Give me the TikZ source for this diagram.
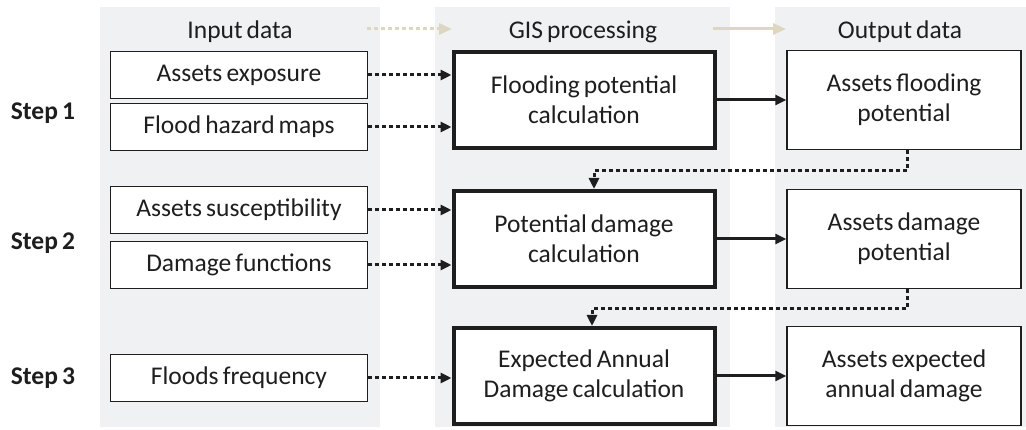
\documentclass[tikz,border=0pt]{standalone}
\usepackage{fontspec}
\setmainfont{Carlito}
\usetikzlibrary{arrows.meta}
\definecolor{panel}{HTML}{F0F1F3}
\definecolor{tan}{HTML}{DDD6C1}
\definecolor{ink}{HTML}{1E1E1E}
\newcommand{\txtsize}{\fontsize{25.5}{30}\selectfont\spaceskip=0.16em plus 0.05em minus 0.05em\relax}
\begin{document}
\begin{tikzpicture}[x=1pt,y=-1pt,
  every node/.style={font=\txtsize, text=ink, align=center, inner sep=0pt},
  inbox/.style={draw=ink, line width=1.3pt, fill=white, minimum width=257pt, minimum height=47pt},
  gisbox/.style={draw=ink, line width=4pt, fill=white, minimum width=261pt, minimum height=96pt},
  outbox/.style={draw=ink, line width=1.3pt, fill=white, minimum width=234pt, minimum height=99pt},
  steplbl/.style={font=\txtsize\bfseries},
  head/.style={font=\txtsize},
  tip/.style={-{Triangle[length=11pt,width=10pt]}},
  dotarrow/.style={tip, draw=ink, line width=3pt, dash pattern=on 3.5pt off 3.5pt},
  solidarrow/.style={tip, draw=ink, line width=3pt},
]
\useasboundingbox (0,0) rectangle (1026,430);

% column panels
\fill[panel] (100,7) rectangle (380,427);
\fill[panel] (435,7) rectangle (730,427);
\fill[panel] (775,7) rectangle (1026,427);

% column headers
\node[head] (hin)  at (240,32) {Input data};
\node[head] (hgis) at (583,32) {GIS processing};
\node[head] (hout) at (900,32) {Output data};
\coordinate (ha1) at (367,29);
\coordinate (hb1) at (452,29);
\coordinate (ha2) at (713,29);
\coordinate (hb2) at (786,29);
\draw[-{Triangle[length=13pt,width=11pt]}, draw=tan, line width=3pt, dash pattern=on 3.5pt off 3.5pt] (ha1) -- (hb1);
\draw[-{Triangle[length=13pt,width=11pt]}, draw=tan, line width=3pt] (ha2) -- (hb2);

% step labels
\node[steplbl] (s1) at (43,113) {Step\,1};
\node[steplbl] (s2) at (43,243) {Step\,2};
\node[steplbl] (s3) at (43,378) {Step\,3};

% input boxes
\node[inbox] (i1) at (239,75)  {Assets exposure};
\node[inbox] (i2) at (239,127) {Flood hazard maps};
\node[inbox] (i3) at (239,210) {Assets susceptibility};
\node[inbox] (i4) at (239,265) {Damage functions};
\node[inbox] (i5) at (239,378) {Floods frequency};

% processing boxes
\node[gisbox] (g1) at (584,100) {Flooding potential\\calculation};
\node[gisbox] (g2) at (584,239) {Potential damage\\calculation};
\node[gisbox] (g3) at (584,376) {Expected Annual\\Damage calculation};

% output boxes
\node[outbox] (o1) at (904,100) {Assets flooding\\potential};
\node[outbox] (o2) at (904,239) {Assets damage\\potential};
\node[outbox] (o3) at (904,376) {Assets expected\\annual damage};

% inputs into processing
\draw[dotarrow] (i1.east) -- (i1.east -| g1.west);
\draw[dotarrow] (i2.east) -- (i2.east -| g1.west);
\draw[dotarrow] (i3.east) -- (i3.east -| g2.west);
\draw[dotarrow] (i4.east) -- (i4.east -| g2.west);
\draw[dotarrow] (i5.east) -- (i5.east -| g3.west);

% processing into outputs
\draw[solidarrow] (g1.east) -- (o1.west);
\draw[solidarrow] (g2.east) -- (o2.west);
\draw[solidarrow] (g3.east) -- (o3.west);

% outputs feeding the next step
\coordinate (c1a) at (907,171);
\coordinate (c1b) at (594,171);
\coordinate (c2a) at (907,309);
\coordinate (c2b) at (592,309);
\draw[dotarrow] (o1.south -| c1a) -- (c1a) -- (c1b) -- (c1b |- g2.north);
\draw[dotarrow] (o2.south -| c2a) -- (c2a) -- (c2b) -- (c2b |- g3.north);
\end{tikzpicture}
\end{document}
